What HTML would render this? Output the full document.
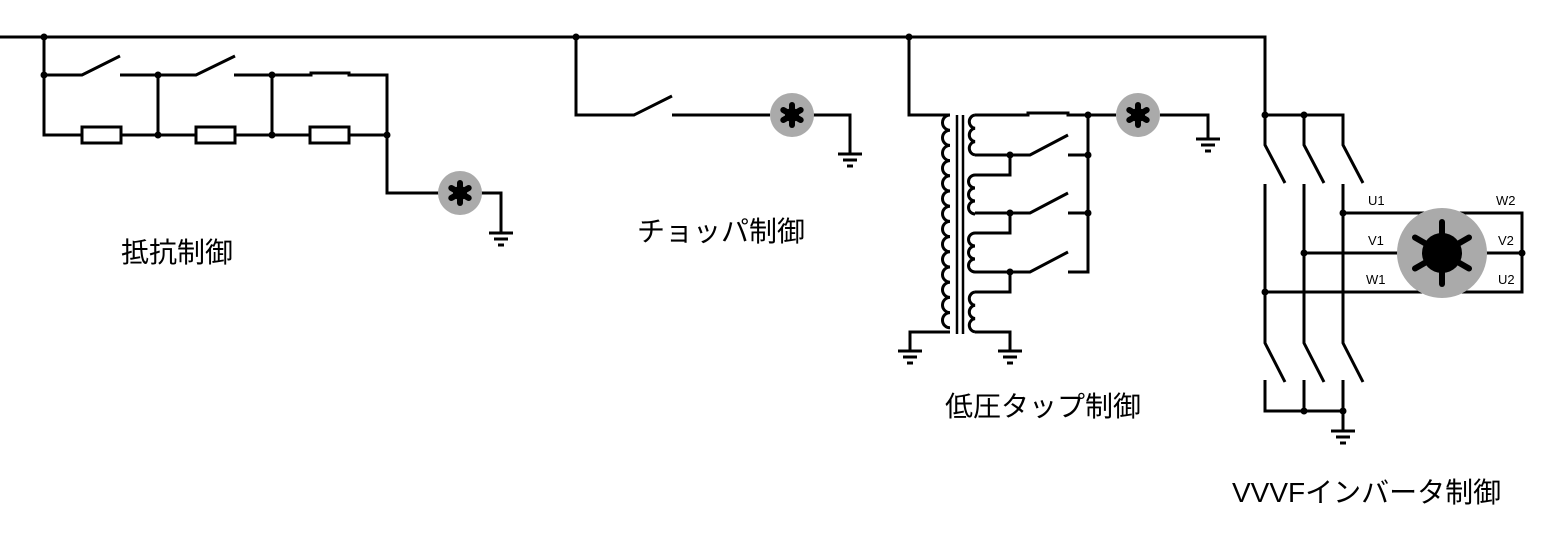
<!DOCTYPE html>
<html><head><meta charset="utf-8"><style>
html,body{margin:0;padding:0;background:#fff;}
svg{display:block;}
text{font-family:"Liberation Sans","Noto Sans CJK JP",sans-serif;fill:#000;}
</style></head><body>
<svg width="1562" height="533" viewBox="0 0 1562 533" xmlns="http://www.w3.org/2000/svg">
<defs>
<g id="m">
<circle r="22" fill="#aaa"/>
<g stroke="#000" stroke-width="6" stroke-linecap="round">
<line x1="0" y1="-10" x2="0" y2="10"/>
<line x1="-8.7" y1="-5" x2="8.7" y2="5"/>
<line x1="-8.7" y1="5" x2="8.7" y2="-5"/>
</g>
<circle r="7" fill="#000"/>
</g>
<g id="g" stroke="#000" stroke-width="3" fill="none">
<line x1="-12" y1="0" x2="12" y2="0"/>
<line x1="-7" y1="6" x2="7" y2="6"/>
<line x1="-3" y1="12" x2="3" y2="12"/>
</g>
</defs>
<g stroke="#000" stroke-width="3" fill="none" stroke-linejoin="miter">
<polyline points="0,37 1265,37 1265,115"/>
<polyline points="44,37 44,135 82,135"/>
<polyline points="44,75 82,75 120,56"/>
<polyline points="120,75 196,75 235,56"/>
<polyline points="234,75 311,75 311,73 349,73 349,75 387,75 387,193 440,193"/>
<rect x="82" y="127" width="39" height="16"/>
<rect x="196" y="127" width="39" height="16"/>
<rect x="310" y="127" width="39" height="16"/>
<line x1="121" y1="135" x2="196" y2="135"/>
<line x1="235" y1="135" x2="310" y2="135"/>
<line x1="349" y1="135" x2="387" y2="135"/>
<line x1="158" y1="75" x2="158" y2="135"/>
<line x1="272" y1="75" x2="272" y2="135"/>
<polyline points="480,193 501,193 501,232"/>
<polyline points="576,37 576,115 634,115 672,96"/>
<line x1="672" y1="115" x2="770" y2="115"/>
<polyline points="812,115 850,115 850,153"/>
<polyline points="909,37 909,115 950,115"/>
<path d="M950,115 a7.5,7.6 0 0 0 0,15.2 a7.5,7.6 0 0 0 0,15.2 a7.5,7.6 0 0 0 0,15.2 a7.5,7.6 0 0 0 0,15.2 a7.5,7.6 0 0 0 0,15.2 a7.5,7.6 0 0 0 0,15.2 a7.5,7.6 0 0 0 0,15.2 a7.5,7.6 0 0 0 0,15.2 a7.5,7.6 0 0 0 0,15.2 a7.5,7.6 0 0 0 0,15.2 a7.5,7.6 0 0 0 0,15.2 a7.5,7.6 0 0 0 0,15.2 a7.5,7.6 0 0 0 0,15.2 a7.5,7.6 0 0 0 0,15.2"/>
<polyline points="950,332 910,332 910,350"/>
<line x1="957" y1="115" x2="957" y2="334" stroke-width="2.5"/>
<line x1="963" y1="115" x2="963" y2="334" stroke-width="2.5"/>
<path d="M975,115 a6.5,6.7 0 0 0 0,13.3 a6.5,6.7 0 0 0 0,13.3 a6.5,6.7 0 0 0 0,13.3"/>
<path d="M975,175 a6.5,6.5 0 0 0 0,13 a6.5,6.5 0 0 0 0,13 a6.5,6.5 0 0 0 0,13"/>
<path d="M975,233 a6.5,6.5 0 0 0 0,13 a6.5,6.5 0 0 0 0,13 a6.5,6.5 0 0 0 0,13"/>
<path d="M975,292 a6.5,6.7 0 0 0 0,13.3 a6.5,6.7 0 0 0 0,13.3 a6.5,6.7 0 0 0 0,13.3"/>
<polyline points="975,115 1028,115 1028,113 1068,113 1068,115 1116,115"/>
<polyline points="975,155 1030,155 1068,135"/>
<polyline points="975,175 1010,175 1010,155"/>
<polyline points="975,213 1030,213 1068,193"/>
<polyline points="975,233 1010,233 1010,213"/>
<polyline points="975,272 1030,272 1068,252"/>
<polyline points="975,292 1010,292 1010,272"/>
<polyline points="975,332 1010,332 1010,350"/>
<polyline points="1068,155 1088,155"/>
<polyline points="1068,213 1088,213"/>
<polyline points="1068,272 1088,272 1088,115"/>
<polyline points="1160,115 1208,115 1208,138"/>
<polyline points="1265,115 1343,115 1343,145 1363,183"/>
<polyline points="1265,115 1265,145 1285,183"/>
<polyline points="1304,115 1304,145 1324,183"/>
<polyline points="1265,184 1265,343 1285,382"/>
<polyline points="1304,184 1304,343 1324,382"/>
<polyline points="1343,184 1343,343 1363,382"/>
<polyline points="1265,380 1265,411 1343,411 1343,380"/>
<line x1="1304" y1="380" x2="1304" y2="411"/>
<line x1="1343" y1="411" x2="1343" y2="430"/>
<polyline points="1343,213 1522,213 1522,292 1265,292"/>
<line x1="1304" y1="253" x2="1522" y2="253"/>
</g>
<g fill="#000">
<circle cx="44" cy="37" r="3.5"/><circle cx="44" cy="75" r="3.5"/>
<circle cx="158" cy="75" r="3.5"/><circle cx="272" cy="75" r="3.5"/>
<circle cx="158" cy="135" r="3.5"/><circle cx="272" cy="135" r="3.5"/><circle cx="387" cy="135" r="3.5"/>
<circle cx="576" cy="37" r="3.5"/><circle cx="909" cy="37" r="3.5"/>
<circle cx="1010" cy="155" r="3.5"/><circle cx="1010" cy="213" r="3.5"/><circle cx="1010" cy="272" r="3.5"/>
<circle cx="1088" cy="115" r="3.5"/><circle cx="1088" cy="155" r="3.5"/><circle cx="1088" cy="213" r="3.5"/>
<circle cx="1265" cy="115" r="3.5"/><circle cx="1304" cy="115" r="3.5"/>
<circle cx="1343" cy="213" r="3.5"/><circle cx="1304" cy="253" r="3.5"/><circle cx="1265" cy="292" r="3.5"/>
<circle cx="1522" cy="253" r="3.5"/>
<circle cx="1304" cy="411" r="3.5"/><circle cx="1343" cy="411" r="3.5"/>
</g>
<use href="#m" x="460" y="193"/>
<use href="#m" x="792" y="115"/>
<use href="#m" x="1138" y="115"/>
<use href="#g" x="501" y="233"/>
<use href="#g" x="850" y="154"/>
<use href="#g" x="1208" y="139"/>
<use href="#g" x="910" y="351"/>
<use href="#g" x="1010" y="351"/>
<use href="#g" x="1343" y="431"/>
<circle cx="1442" cy="253" r="45" fill="#aaa"/>
<g stroke="#000" stroke-width="6" stroke-linecap="round">
<line x1="1442" y1="222" x2="1442" y2="284"/>
<line x1="1415" y1="237.5" x2="1469" y2="268.5"/>
<line x1="1415" y1="268.5" x2="1469" y2="237.5"/>
</g>
<circle cx="1442" cy="253" r="20" fill="#000"/>
<g font-size="13">
<text x="1368" y="205">U1</text><text x="1496" y="205">W2</text>
<text x="1368" y="245">V1</text><text x="1498" y="245">V2</text>
<text x="1366" y="284">W1</text><text x="1498" y="284">U2</text>
</g>
<g font-size="28">
<text x="121" y="262">抵抗制御</text>
<text x="637" y="241">チョッパ制御</text>
<text x="945" y="416">低圧タップ制御</text>
<text x="1232" y="502">VVVFインバータ制御</text>
</g>
</svg>
</body></html>
